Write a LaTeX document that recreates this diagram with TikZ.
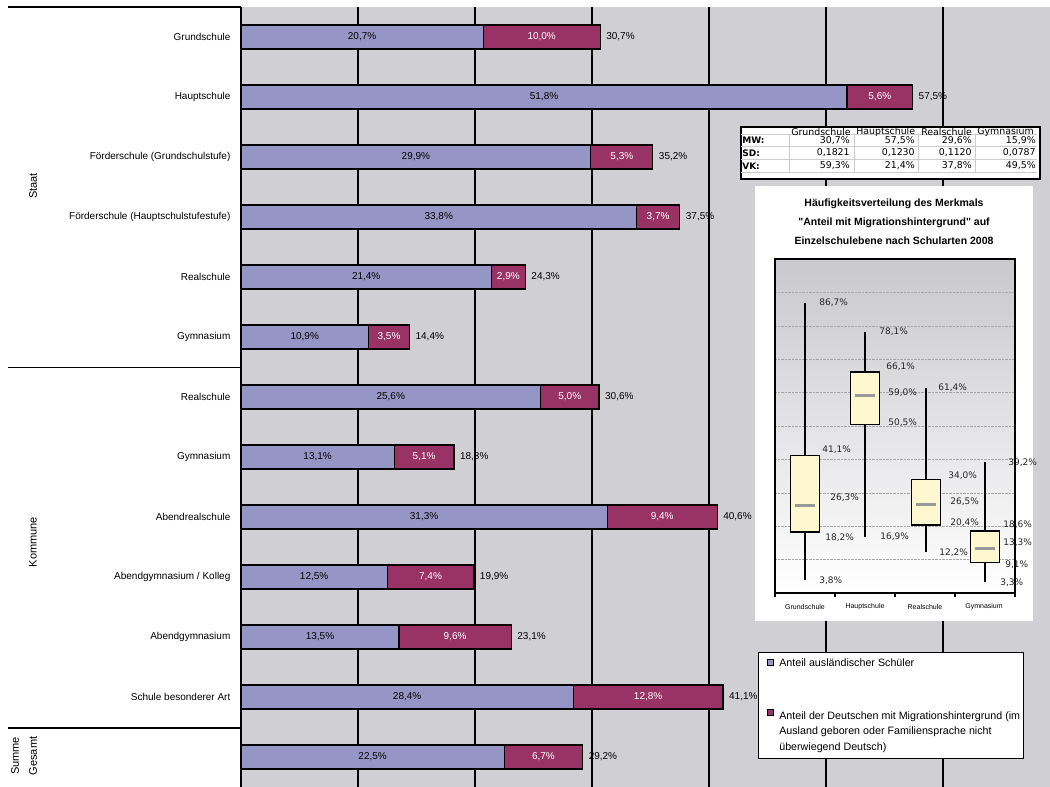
\documentclass[tikz,border=0pt]{standalone}
\usepackage{fontspec}
\setmainfont{Liberation Sans}[Ligatures=TeXOff]
\newfontfamily\verdana{DejaVu Sans}
\usepackage{xcolor}
\usepackage{tikz}
\usetikzlibrary{positioning}
\definecolor{lila}{RGB}{150,150,198}
\definecolor{weinrot}{RGB}{153,51,102}
\definecolor{grau}{RGB}{208,208,212}
\definecolor{gelb}{RGB}{253,248,208}
\definecolor{verlauf}{RGB}{200,200,205}
\newcommand\zahl[1]{\pgfmathprintnumber[fixed,fixed zerofill,precision=1,use comma,assume math mode=true]{#1}\%}

\begin{document}
\begin{tikzpicture}[x=1pt,y=-1pt,semithick,font=\fontsize{10}{12}\selectfont]
\tikzstyle{balken}=[draw,line width=1.2pt,minimum height=24pt,inner sep=0pt,outer sep=0pt,anchor=west]
\tikzstyle{gitter}=[line width=1.5pt]
\tikzstyle{tab}=[font=\verdana\fontsize{9.4}{11}\selectfont,inner sep=1pt]
\tikzstyle{tabkopf}=[font=\verdana\bfseries\fontsize{9}{11}\selectfont,inner sep=1pt,anchor=west]
\tikzstyle{wert}=[font=\verdana\fontsize{9}{10}\selectfont,text=black!85,anchor=west,inner sep=0pt]
\tikzstyle{gruppe}=[rotate=90,font=\fontsize{11}{13}\selectfont]
\useasboundingbox (0,0) rectangle (1050,787);
%hintergrund
\fill[grau] (241,7) rectangle (1050,787);
\foreach \x in {1,...,6} \draw[gitter] (241+117*\x,7) -- (241+117*\x,787);
\draw[line width=1.2pt] (8,7) -- (241,7) (8,367.5) -- (241,367.5) (8,728) -- (241,728);
\draw[line width=2pt] (241,7) -- (241,787);
%balken
\foreach \i/\a/\b/\s in {1/20.7/10.0/30.7,2/51.8/5.6/57.5,3/29.9/5.3/35.2,4/33.8/3.7/37.5,5/21.4/2.9/24.3,6/10.9/3.5/14.4,7/25.6/5.0/30.6,8/13.1/5.1/18.3,9/31.3/9.4/40.6,10/12.5/7.4/19.9,11/13.5/9.6/23.1,12/28.4/12.8/41.1,13/22.5/6.7/29.2}{
  \node[balken,fill=lila,minimum width=11.7*\a] (a\i) at (241,60*\i-23) {\zahl{\a}};
  \node[balken,fill=weinrot,text=white,minimum width=11.7*\b,right=0pt of a\i] (b\i) {\zahl{\b}};
  \node[right=2.5pt of b\i] (s\i) {\zahl{\s}};
}
%schularten
\foreach \i/\n in {1/Grundschule,2/Hauptschule,3/{Förderschule (Grundschulstufe)},4/{Förderschule (Hauptschulstufestufe)},5/Realschule,6/Gymnasium,7/Realschule,8/Gymnasium,9/Abendrealschule,10/{Abendgymnasium / Kolleg},11/Abendgymnasium,12/{Schule besonderer Art}}
  \node[anchor=east] (l\i) at (234,60*\i-23) {\n};
\node[gruppe] (staat) at (33,186) {Staat};
\node[gruppe] (kommune) at (33,542) {Kommune};
\node[gruppe] (summe) at (15,756) {Summe};
\node[gruppe] (gesamt) at (33,756) {Gesamt};
%tabelle
\node[draw,fill=white,line width=1.8pt,minimum width=299,minimum height=52,inner sep=0pt,anchor=north west] (tabelle) at (740,126) {};
\draw[black!20,thin] (741,134.5) -- (1037,134.5) (741,146.5) -- (1037,146.5) (741,159.5) -- (1037,159.5) (741,172.5) -- (1037,172.5);
\draw[black!20,thin] (789,134.5) -- (789,172.5) (854,134.5) -- (854,172.5) (918,134.5) -- (918,172.5) (975,134.5) -- (975,172.5);
\node[tab,anchor=west] (h1) at (790,132) {Grundschule};
\node[tab,anchor=west] (h2) at (855,132) {Hauptschule};
\node[tab,anchor=west] (h3) at (920,132) {Realschule};
\node[tab,anchor=west] (h4) at (976,132) {Gymnasium};
\node[tabkopf] (mw) at (741,140.5) {MW:};
\node[tabkopf] (sd) at (741,153) {SD:};
\node[tabkopf] (vk) at (741,166) {VK:};
\node[tab,anchor=east] (mw1) at (851,140.5) {30,7\%};
\node[tab,anchor=east] (mw2) at (916,140.5) {57,5\%};
\node[tab,anchor=east] (mw3) at (973,140.5) {29,6\%};
\node[tab,anchor=east] (mw4) at (1037,140.5) {15,9\%};
\node[tab,anchor=east] (sd1) at (851,153) {0,1821};
\node[tab,anchor=east] (sd2) at (916,153) {0,1230};
\node[tab,anchor=east] (sd3) at (973,153) {0,1120};
\node[tab,anchor=east] (sd4) at (1037,153) {0,0787};
\node[tab,anchor=east] (vk1) at (851,166) {59,3\%};
\node[tab,anchor=east] (vk2) at (916,166) {21,4\%};
\node[tab,anchor=east] (vk3) at (973,166) {37,8\%};
\node[tab,anchor=east] (vk4) at (1037,166) {49,5\%};
%boxplot
\node[fill=white,minimum width=278,minimum height=435,inner sep=0pt,anchor=north west] (panel) at (755,186) {};
\node[align=center,font=\bfseries\fontsize{10.5}{19}\selectfont] (titel) at (894,222) {Häufigkeitsverteilung des Merkmals\\"Anteil mit Migrationshintergrund" auf\\Einzelschulebene nach Schularten 2008};
\shade[top color=verlauf,bottom color=white] (775,259) rectangle (1015,593);
\foreach \k in {1,...,9} \draw[black!35,densely dotted,thin] (775,593-33.4*\k) -- (1015,593-33.4*\k);
\foreach \x/\mn/\qa/\md/\qc/\mx in {805/3.8/18.2/26.3/41.1/86.7,865/16.9/50.5/59.0/66.1/78.1,926/12.2/20.4/26.5/34.0/61.4,985/3.3/9.1/13.3/18.6/39.2}{
  \draw[line width=1.5pt] (\x,593-3.34*\mx) -- (\x,593-3.34*\mn);
  \draw[line width=1.5pt,fill=gelb] (\x-14.5,593-3.34*\qa) rectangle (\x+14.5,593-3.34*\qc);
  \draw[line width=3pt,black!40] (\x-10,593-3.34*\md) -- (\x+10,593-3.34*\md);
}
\foreach \x/\y/\v [count=\n] in {819/303/86.7,822/450/41.1,830/498/26.3,825/538/18.2,819/581/3.8,879/332/78.1,886/367/66.1,888/393/59.0,888/423/50.5,880/537/16.9,938/388/61.4,948/476/34.0,950/502/26.5,950/523/20.4,939/553/12.2,1008/463/39.2,1003/525/18.6,1003/543/13.3,1005/565/9.1,1000/583/3.3}
  \node[wert] (w\n) at (\x,\y) {\zahl{\v}};
\draw[line width=1.5pt] (775,593) -- (775,259) -- (1015,259) -- (1015,593);
\draw[line width=2pt] (775,593) -- (1015,593);
\foreach \x in {0,...,4} \draw[line width=1.5pt] (775+60*\x,593) -- (775+60*\x,597);
\foreach \x/\n in {805/Grundschule,865/Hauptschule,925/Realschule,984/Gymnasium}
  \node[font=\fontsize{7}{8}\selectfont] (k\n) at (\x,607) {\n};
%legende
\node[draw,fill=white,line width=1.2pt,minimum width=265,minimum height=106,inner sep=0pt,anchor=north west] (legende) at (758,652) {};
\node[draw,fill=lila,line width=1pt,minimum size=6pt,inner sep=0pt] (m1) at (770,662) {};
\node[anchor=west,inner sep=0pt,font=\fontsize{10.7}{13}\selectfont] (t1) at (779,663) {Anteil ausländischer Schüler};
\node[draw,fill=weinrot,line width=1pt,minimum size=6pt,inner sep=0pt] (m2) at (770,712) {};
\node[anchor=north west,inner sep=0pt,align=left,font=\fontsize{10.7}{15.5}\selectfont] (t2) at (779,711) {Anteil der Deutschen mit Migrationshintergrund (im\\Ausland geboren oder Familiensprache nicht\\überwiegend Deutsch)};
\end{tikzpicture}
\end{document}
